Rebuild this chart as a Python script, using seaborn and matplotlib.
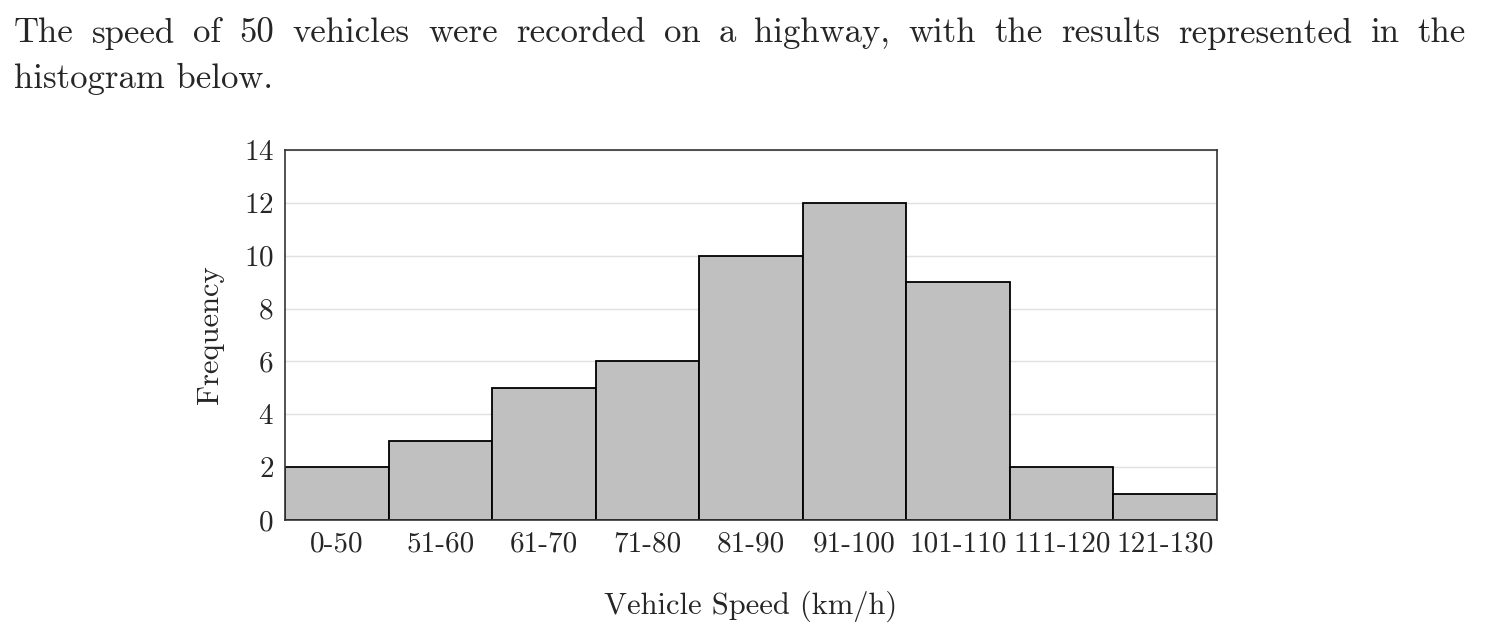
import matplotlib
matplotlib.use("Agg")
import matplotlib.pyplot as plt
import seaborn as sns
import pandas as pd

speed_bins = ["0-50", "51-60", "61-70", "71-80", "81-90", "91-100",
              "101-110", "111-120", "121-130"]
frequency = [2, 3, 5, 6, 10, 12, 9, 2, 1]
y_ticks = [0, 2, 4, 6, 8, 10, 12, 14]

line1 = "The speed of 50 vehicles were recorded on a highway, with the results represented in the"
line2 = "histogram below."

sns.set_theme(style="white")
plt.rcParams["font.family"] = ["cmr10", "DejaVu Serif"]
plt.rcParams["axes.formatter.use_mathtext"] = True

df = pd.DataFrame({"speed": speed_bins, "freq": frequency})

fig = plt.figure(figsize=(14.92, 6.44), dpi=100)
ax = fig.add_axes([0.191, 0.1925, 0.6247, 0.5745])

sns.barplot(data=df, x="speed", y="freq", color="#c0c0c0", saturation=1,
            width=1.0, edgecolor="black", linewidth=1.3, ax=ax, zorder=2)

ax.set_xlim(-0.5, len(speed_bins) - 0.5)
ax.set_ylim(0, 14)
ax.set_yticks(y_ticks)
ax.yaxis.grid(True, color="#e0e0e0", linewidth=1.0, zorder=0)
ax.set_axisbelow(True)
for s in ax.spines.values():
    s.set_color("#333333")
    s.set_linewidth(1.2)
ax.tick_params(axis="y", direction="in", length=5, color="#999999",
               labelsize=21, pad=8)
ax.tick_params(axis="x", length=0, labelsize=21, pad=8)
ax.set_xlabel("Vehicle Speed (km/h)", fontsize=22, labelpad=24)
ax.set_ylabel("Frequency", fontsize=22, labelpad=14)

# justified first line: lay words out between the two margins
fs = 25
x_left, x_right = 14 / 1492, 1466 / 1492
words = line1.split(" ")
renderer = fig.canvas.get_renderer()
texts = [fig.text(0, 0.948, w, fontsize=fs, ha="left", va="center") for w in words]
widths = [t.get_window_extent(renderer).width / fig.bbox.width for t in texts]
gap = (x_right - x_left - sum(widths)) / (len(words) - 1)
x = x_left
for t, w in zip(texts, widths):
    t.set_x(x)
    x += w + gap
fig.text(x_left, 0.878, line2, fontsize=fs, ha="left", va="center")

fig.savefig("out.png", dpi=100)
